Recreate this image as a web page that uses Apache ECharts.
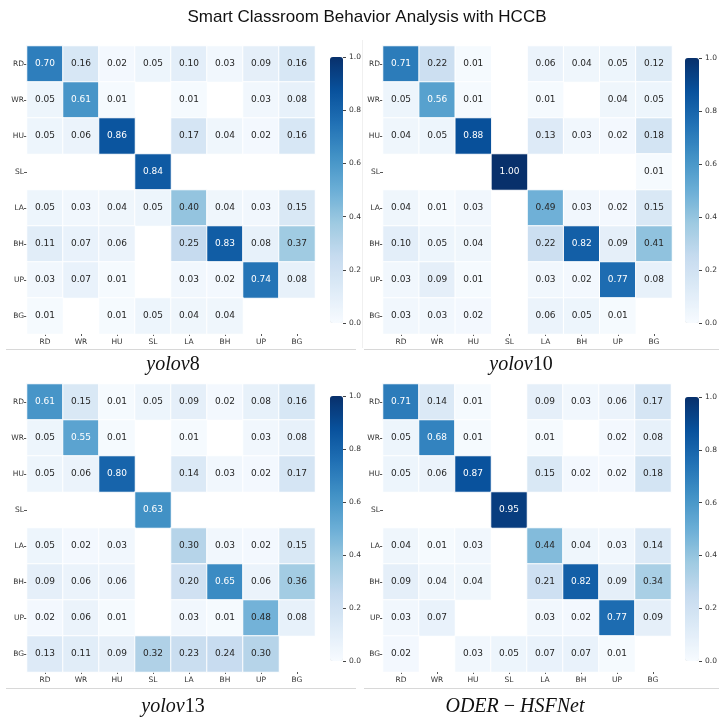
<!DOCTYPE html>
<html>
<head>
<meta charset="utf-8">
<script src="https://cdn.jsdelivr.net/npm/echarts@6/dist/echarts.min.js"></script>
<style>
  html, body { margin: 0; padding: 0; background: #fff; }
  #chart { width: 723px; height: 723px; }
</style>
</head>
<body>
<div id="chart"></div>
<script>
const classes = ["RD", "WR", "HU", "SL", "LA", "BH", "UP", "BG"];
const colorbarTicks = [0, 0.2, 0.4, 0.6, 0.8, 1.0];
const blues = ["#f7fbff", "#deebf7", "#c6dbef", "#9ecae1", "#6baed6", "#4292c6", "#2171b5", "#08519c", "#08306b"];

// rows = true class, cols = predicted class, 0 = empty cell
const yolov8 = [
  [0.70, 0.16, 0.02, 0.05, 0.10, 0.03, 0.09, 0.16],
  [0.05, 0.61, 0.01, 0, 0.01, 0, 0.03, 0.08],
  [0.05, 0.06, 0.86, 0, 0.17, 0.04, 0.02, 0.16],
  [0, 0, 0, 0.84, 0, 0, 0, 0],
  [0.05, 0.03, 0.04, 0.05, 0.40, 0.04, 0.03, 0.15],
  [0.11, 0.07, 0.06, 0, 0.25, 0.83, 0.08, 0.37],
  [0.03, 0.07, 0.01, 0, 0.03, 0.02, 0.74, 0.08],
  [0.01, 0, 0.01, 0.05, 0.04, 0.04, 0, 0]
];
const yolov10 = [
  [0.71, 0.22, 0.01, 0, 0.06, 0.04, 0.05, 0.12],
  [0.05, 0.56, 0.01, 0, 0.01, 0, 0.04, 0.05],
  [0.04, 0.05, 0.88, 0, 0.13, 0.03, 0.02, 0.18],
  [0, 0, 0, 1.00, 0, 0, 0, 0.01],
  [0.04, 0.01, 0.03, 0, 0.49, 0.03, 0.02, 0.15],
  [0.10, 0.05, 0.04, 0, 0.22, 0.82, 0.09, 0.41],
  [0.03, 0.09, 0.01, 0, 0.03, 0.02, 0.77, 0.08],
  [0.03, 0.03, 0.02, 0, 0.06, 0.05, 0.01, 0]
];
const yolov13 = [
  [0.61, 0.15, 0.01, 0.05, 0.09, 0.02, 0.08, 0.16],
  [0.05, 0.55, 0.01, 0, 0.01, 0, 0.03, 0.08],
  [0.05, 0.06, 0.80, 0, 0.14, 0.03, 0.02, 0.17],
  [0, 0, 0, 0.63, 0, 0, 0, 0],
  [0.05, 0.02, 0.03, 0, 0.30, 0.03, 0.02, 0.15],
  [0.09, 0.06, 0.06, 0, 0.20, 0.65, 0.06, 0.36],
  [0.02, 0.06, 0.01, 0, 0.03, 0.01, 0.48, 0.08],
  [0.13, 0.11, 0.09, 0.32, 0.23, 0.24, 0.30, 0]
];
const oderHsfnet = [
  [0.71, 0.14, 0.01, 0, 0.09, 0.03, 0.06, 0.17],
  [0.05, 0.68, 0.01, 0, 0.01, 0, 0.02, 0.08],
  [0.05, 0.06, 0.87, 0, 0.15, 0.02, 0.02, 0.18],
  [0, 0, 0, 0.95, 0, 0, 0, 0],
  [0.04, 0.01, 0.03, 0, 0.44, 0.04, 0.03, 0.14],
  [0.09, 0.04, 0.04, 0, 0.21, 0.82, 0.09, 0.34],
  [0.03, 0.07, 0, 0, 0.03, 0.02, 0.77, 0.09],
  [0.02, 0, 0.03, 0.05, 0.07, 0.07, 0.01, 0]
];

const matrices = [yolov8, yolov10, yolov13, oderHsfnet];

// panel layout: heatmap grid + colorbar
const panels = [
  { grid: [27, 46, 288, 288], bar: [330, 57, 13, 266] },
  { grid: [383, 46, 289, 288], bar: [685, 58, 14, 265] },
  { grid: [27, 384, 288, 288], bar: [330, 396, 13, 265] },
  { grid: [383, 384, 288, 288], bar: [685, 397, 14, 264] }
];

const FONT = "DejaVu Sans";
const grid = [], xAxis = [], yAxis = [], series = [], visualMap = [];

panels.forEach((p, i) => {
  const g = p.grid, b = p.bar;
  grid.push({ left: g[0], top: g[1], width: g[2], height: g[3] });
  // thin grid sitting on the colorbar's right edge, holds its tick axis
  grid.push({ left: b[0] + b[2], top: b[1], width: 1, height: b[3] });

  xAxis.push({
    type: "category", gridIndex: 2 * i, data: classes,
    axisLine: { show: false },
    axisTick: { show: true, length: 2, alignWithLabel: true, lineStyle: { color: "#555" } },
    axisLabel: { fontFamily: FONT, fontSize: 7.5, color: "#333", margin: 4 },
    splitArea: { show: false }
  });
  yAxis.push({
    type: "category", gridIndex: 2 * i, data: classes, inverse: true,
    axisLine: { show: false },
    axisTick: { show: true, length: 3, alignWithLabel: true, lineStyle: { color: "#555" } },
    axisLabel: { fontFamily: FONT, fontSize: 7.5, color: "#333", margin: 3 },
    splitArea: { show: false }
  });
  xAxis.push({ type: "value", gridIndex: 2 * i + 1, show: false, min: 0, max: 1 });
  yAxis.push({
    type: "value", gridIndex: 2 * i + 1, position: "right",
    min: colorbarTicks[0], max: colorbarTicks[colorbarTicks.length - 1], interval: 0.2,
    axisLine: { show: false },
    splitLine: { show: false },
    axisTick: { show: true, length: 3, lineStyle: { color: "#444", width: 1 } },
    axisLabel: { fontFamily: FONT, fontSize: 7.5, color: "#333", margin: 5, formatter: v => v.toFixed(1) }
  });

  const data = [];
  matrices[i].forEach((row, r) => {
    row.forEach((v, c) => {
      if (v > 0) {
        data.push({ value: [c, r, v], label: { color: v > 0.5 ? "#fff" : "#262626" } });
      }
    });
  });
  series.push({
    type: "heatmap", xAxisIndex: 2 * i, yAxisIndex: 2 * i, data,
    itemStyle: { borderColor: "#fff", borderWidth: 1 },
    label: { show: true, fontFamily: FONT, fontSize: 9, formatter: d => d.value[2].toFixed(2) },
    emphasis: { disabled: true }
  });

  visualMap.push({
    type: "continuous", min: 0, max: 1, seriesIndex: i, dimension: 2,
    inRange: { color: blues },
    calculable: false, hoverLink: false, padding: 0,
    left: b[0], top: b[1], itemWidth: b[2], itemHeight: b[3]
  });
});

const subTitle = (rich, x, y) => ({
  text: rich, left: x, top: y, textAlign: "center",
  textStyle: {
    fontWeight: "normal",
    rich: {
      i: { fontFamily: "Liberation Serif", fontStyle: "italic", fontWeight: "normal", fontSize: 20, color: "#111" },
      n: { fontFamily: "Liberation Serif", fontWeight: "normal", fontSize: 20, color: "#111" }
    }
  }
});

const chart = echarts.init(document.getElementById("chart"));
chart.setOption({
  animation: false,
  backgroundColor: "#fff",
  title: [
    { text: "Smart Classroom Behavior Analysis with HCCB", left: 362, top: 4, textAlign: "center",
      textStyle: { fontFamily: "Liberation Sans", fontSize: 17, fontWeight: "normal", color: "#111" } },
    subTitle("{i|yolov}{n|8}", 168, 350),
    subTitle("{i|yolov}{n|10}", 516, 350),
    subTitle("{i|yolov}{n|13}", 168, 692),
    subTitle("{i|ODER }{n|\u2212}{i| HSFNet}", 510, 692)
  ],
  graphic: [
    { type: "line", shape: { x1: 6, y1: 349.5, x2: 356, y2: 349.5 }, style: { stroke: "#d8d8d8", lineWidth: 1 } },
    { type: "line", shape: { x1: 364, y1: 349.5, x2: 719, y2: 349.5 }, style: { stroke: "#d8d8d8", lineWidth: 1 } },
    { type: "line", shape: { x1: 6, y1: 688.5, x2: 356, y2: 688.5 }, style: { stroke: "#d8d8d8", lineWidth: 1 } },
    { type: "line", shape: { x1: 364, y1: 688.5, x2: 719, y2: 688.5 }, style: { stroke: "#d8d8d8", lineWidth: 1 } },
    { type: "line", shape: { x1: 362.5, y1: 40, x2: 362.5, y2: 348 }, style: { stroke: "#f0f0f0", lineWidth: 1 } }
  ],
  grid, xAxis, yAxis, visualMap, series
});
</script>
</body>
</html>
